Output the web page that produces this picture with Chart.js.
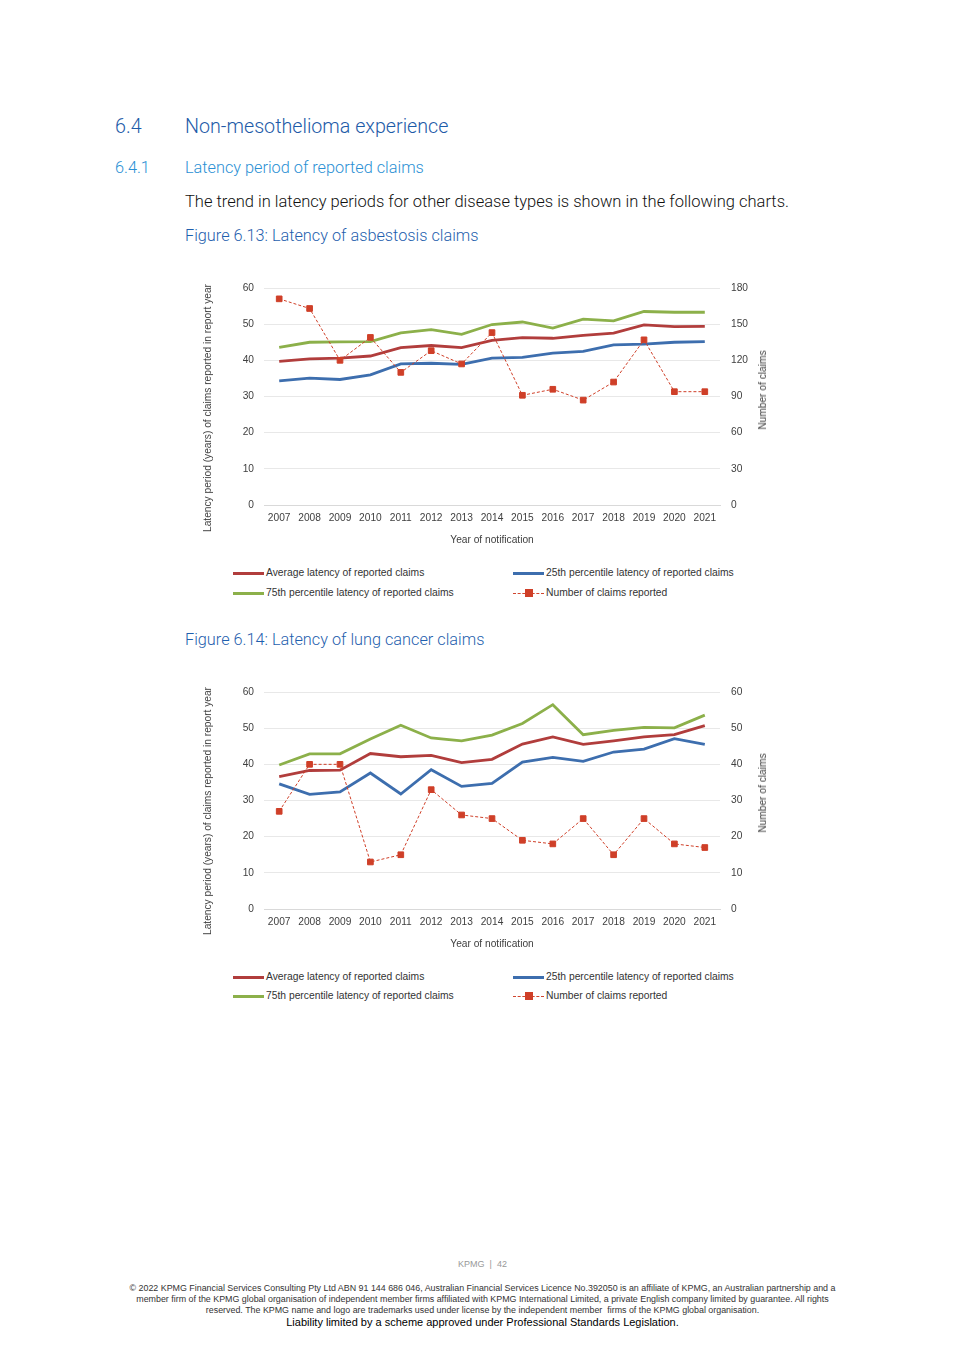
<!DOCTYPE html>
<html>
<head>
<meta charset="utf-8">
<script src="https://cdn.jsdelivr.net/npm/chart.js@4.4.1/dist/chart.umd.min.js"></script>
<style>
  body { margin: 0; width: 965px; height: 1365px; position: relative; background: #fff;
         font-family: "Liberation Sans", Arial, sans-serif; overflow: hidden; }
  .t { position: absolute; white-space: nowrap; }
  .h1 { font-family: Roboto, "Liberation Sans", sans-serif; font-weight: 300; font-size: 19.7px; line-height: 20px; color: #1d5ba8; }
  .h2 { font-family: Roboto, "Liberation Sans", sans-serif; font-weight: 300; font-size: 16.3px; line-height: 17px; color: #2b90d4; }
  .body { font-family: Roboto, "Liberation Sans", sans-serif; font-weight: 300; font-size: 16.5px; line-height: 17px; color: #111; }
  .cap { font-family: Roboto, "Liberation Sans", sans-serif; font-weight: 300; font-size: 16.3px; line-height: 17px; color: #1f5fae; }
  .ax { font-size: 10.2px; line-height: 12px; color: #404040; }
  .vt { transform: translate(-50%, -50%) rotate(-90deg); }
  .leg { font-size: 10.3px; line-height: 12px; color: #333; display: flex; align-items: center; }
  .leg .sw { width: 31px; height: 3px; margin-right: 2px; }
  .leg .dash { width: 31px; height: 8px; margin-right: 2px; position: relative; }
  .leg .dash::before { content: ""; position: absolute; left: 0; right: 0; top: 3.5px; border-top: 1px dashed #d0452e; }
  .leg .dash::after { content: ""; position: absolute; left: 12px; top: 0; width: 8px; height: 8px; background: #cf3f28; }
  canvas { position: absolute; }
  .foot { font-size: 8.9px; line-height: 11px; color: #333; text-align: center; width: 965px; left: 0; }
</style>
</head>
<body>
<div class="t h1" style="left:115px;top:117px">6.4</div>
<div class="t h1" style="left:185px;top:117px">Non-mesothelioma experience</div>
<div class="t h2" style="left:115px;top:159px">6.4.1</div>
<div class="t h2" style="left:185px;top:159px">Latency period of reported claims</div>
<div class="t body" style="left:185px;top:193px">The trend in latency periods for other disease types is shown in the following charts.</div>
<div class="t cap" style="left:185px;top:227px">Figure 6.13: Latency of asbestosis claims</div>

<div style="position:absolute;left:190px;top:270px;width:600px;height:280px"><canvas id="chartAsb"></canvas></div>
<div class="t ax vt" style="left:208px;top:408px">Latency period (years) of claims reported in report year</div>
<div class="t ax vt" style="left:763px;top:390px">Number of claims</div>
<div class="t leg" style="left:233px;top:567px"><span class="sw" style="background:#b13d3c"></span>Average latency of reported claims</div>
<div class="t leg" style="left:513px;top:567px"><span class="sw" style="background:#3d6eae"></span>25th percentile latency of reported claims</div>
<div class="t leg" style="left:233px;top:587px"><span class="sw" style="background:#8cb04a"></span>75th percentile latency of reported claims</div>
<div class="t leg" style="left:513px;top:587px"><span class="dash"></span>Number of claims reported</div>

<div class="t cap" style="left:185px;top:631px">Figure 6.14: Latency of lung cancer claims</div>

<div style="position:absolute;left:190px;top:674px;width:600px;height:280px"><canvas id="chartLung"></canvas></div>
<div class="t ax vt" style="left:208px;top:811px">Latency period (years) of claims reported in report year</div>
<div class="t ax vt" style="left:763px;top:793px">Number of claims</div>
<div class="t leg" style="left:233px;top:971px"><span class="sw" style="background:#b13d3c"></span>Average latency of reported claims</div>
<div class="t leg" style="left:513px;top:971px"><span class="sw" style="background:#3d6eae"></span>25th percentile latency of reported claims</div>
<div class="t leg" style="left:233px;top:990px"><span class="sw" style="background:#8cb04a"></span>75th percentile latency of reported claims</div>
<div class="t leg" style="left:513px;top:990px"><span class="dash"></span>Number of claims reported</div>

<div class="t foot" style="top:1259px;color:#999;font-size:9px">KPMG&nbsp; |&nbsp; 42</div>
<div class="t foot" style="top:1283px">© 2022 KPMG Financial Services Consulting Pty Ltd ABN 91 144 686 046, Australian Financial Services Licence No.392050 is an affiliate of KPMG, an Australian partnership and a</div>
<div class="t foot" style="top:1294px">member firm of the KPMG global organisation of independent member firms affiliated with KPMG International Limited, a private English company limited by guarantee. All rights</div>
<div class="t foot" style="top:1305px">reserved. The KPMG name and logo are trademarks used under license by the independent member&nbsp; firms of the KPMG global organisation.</div>
<div class="t foot" style="top:1316px;font-size:11px;line-height:13px;color:#000">Liability limited by a scheme approved under Professional Standards Legislation.</div>

<script>
const years = ["2007","2008","2009","2010","2011","2012","2013","2014","2015","2016","2017","2018","2019","2020","2021"];

// Figure 6.13 - asbestosis
const asbAvg = [39.7, 40.4, 40.6, 41.2, 43.5, 44.1, 43.5, 45.5, 46.3, 46.1, 46.9, 47.5, 49.8, 49.3, 49.4];
const asbP25 = [34.3, 35.1, 34.7, 36.0, 39.0, 39.2, 38.9, 40.6, 40.8, 42.0, 42.5, 44.3, 44.5, 45.0, 45.2];
const asbP75 = [43.6, 45.0, 45.1, 45.2, 47.6, 48.5, 47.2, 49.9, 50.6, 48.9, 51.4, 50.9, 53.5, 53.3, 53.3];
const asbClaims = [171, 163, 120, 139, 110, 128, 117, 143, 91, 96, 87, 102, 137, 94, 94];

// Figure 6.14 - lung cancer
const lungAvg = [36.6, 38.3, 38.4, 43.0, 42.1, 42.5, 40.5, 41.4, 45.6, 47.6, 45.5, 46.5, 47.6, 48.2, 50.7];
const lungP25 = [34.6, 31.7, 32.4, 37.6, 31.8, 38.5, 33.9, 34.7, 40.6, 41.9, 40.8, 43.4, 44.2, 47.1, 45.5];
const lungP75 = [39.8, 42.9, 42.9, 47.0, 50.8, 47.3, 46.5, 48.1, 51.3, 56.5, 48.2, 49.4, 50.2, 50.1, 53.6];
const lungClaims = [27, 40, 40, 13, 15, 33, 26, 25, 19, 18, 25, 15, 25, 18, 17];

const RED = "#b13d3c", BLUE = "#3d6eae", GREEN = "#8cb04a", CLAIM = "#cf3f28";
const tickFont = { family: "Liberation Sans", size: 10.2 };

function buildChart(id, avg, p25, p75, claims, rightMax, rightStep) {
  new Chart(document.getElementById(id), {
    type: "line",
    data: {
      labels: years,
      datasets: [
        { label: "Number of claims reported", data: claims, yAxisID: "y2", order: 0,
          borderColor: CLAIM, borderWidth: 1, borderDash: [3, 2], pointStyle: "rect",
          pointRadius: 4, pointBackgroundColor: CLAIM, pointBorderColor: CLAIM, tension: 0 },
        { label: "Average latency of reported claims", data: avg, yAxisID: "y", order: 2,
          borderColor: RED, borderWidth: 2.8, pointRadius: 0, tension: 0 },
        { label: "25th percentile latency of reported claims", data: p25, yAxisID: "y", order: 3,
          borderColor: BLUE, borderWidth: 2.8, pointRadius: 0, tension: 0 },
        { label: "75th percentile latency of reported claims", data: p75, yAxisID: "y", order: 1,
          borderColor: GREEN, borderWidth: 2.8, pointRadius: 0, tension: 0 }
      ]
    },
    options: {
      responsive: true, maintainAspectRatio: false, animation: false,
      layout: { padding: { top: 18, left: 0, right: 0, bottom: 0 } },
      plugins: { legend: { display: false }, tooltip: { enabled: false } },
      scales: {
        x: {
          offset: true,
          grid: { display: false, drawTicks: false },
          border: { display: true, color: "#d9d9d9" },
          ticks: { font: tickFont, color: "#404040", padding: 7, maxRotation: 0, autoSkip: false },
          title: { display: true, text: "Year of notification", font: tickFont, color: "#404040", padding: { top: 4, bottom: 4 } },
          afterFit: s => { s.height = 45; }
        },
        y: {
          position: "left", min: 0, max: 60,
          grid: { color: "#e8e8e8", drawTicks: false },
          border: { display: false },
          ticks: { stepSize: 10, font: tickFont, color: "#404040", padding: 10 },
          afterFit: s => { s.width = 74; }
        },
        y2: {
          position: "right", min: 0, max: rightMax,
          grid: { display: false, drawTicks: false },
          border: { display: false },
          ticks: { stepSize: rightStep, font: tickFont, color: "#404040", padding: 11 },
          afterFit: s => { s.width = 70; }
        }
      }
    }
  });
}

buildChart("chartAsb", asbAvg, asbP25, asbP75, asbClaims, 180, 30);
buildChart("chartLung", lungAvg, lungP25, lungP75, lungClaims, 60, 10);
</script>
</body>
</html>
